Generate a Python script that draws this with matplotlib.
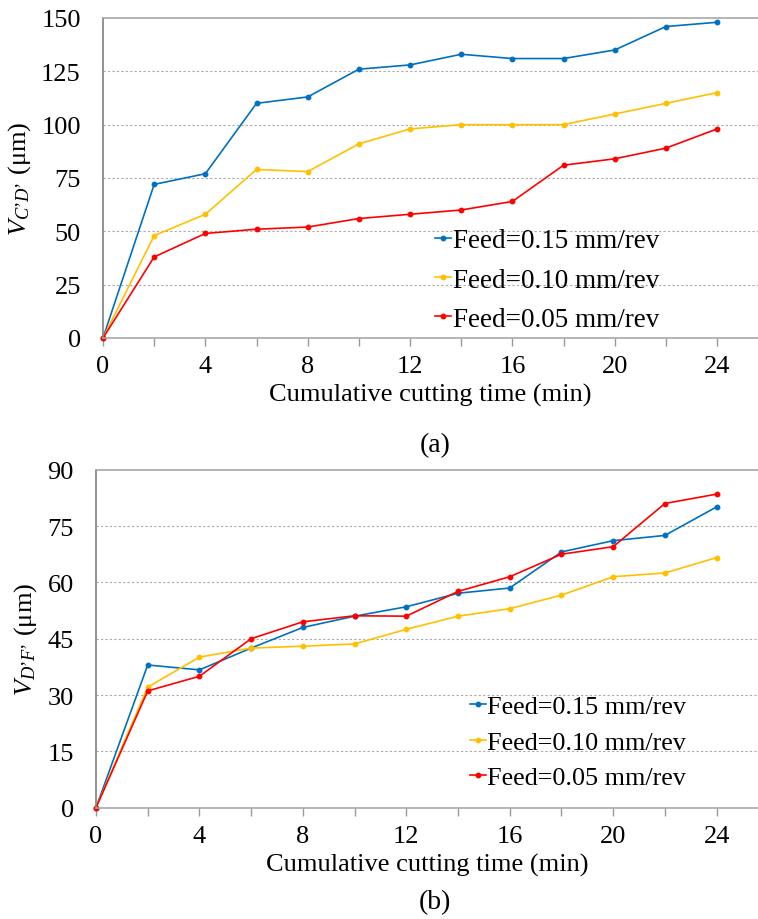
import matplotlib
matplotlib.use("Agg")
import matplotlib.pyplot as plt
from matplotlib.ticker import MultipleLocator

plt.rcParams['font.family'] = ['Liberation Serif', 'DejaVu Serif']
plt.rcParams['mathtext.fontset'] = 'custom'
plt.rcParams['mathtext.rm'] = 'Liberation Serif'
plt.rcParams['mathtext.it'] = 'Liberation Serif:italic'

time = [0, 2, 4, 6, 8, 10, 12, 14, 16, 18, 20, 22, 24]
labels = ["Feed=0.15 mm/rev", "Feed=0.10 mm/rev", "Feed=0.05 mm/rev"]
colors = ["#0070C0", "#FFC000", "#FF0000"]

a_f015 = [0, 72, 77, 110, 113, 126, 128, 133, 131, 131, 135, 146, 148]
a_f010 = [0, 48, 58, 79, 78, 91, 98, 100, 100, 100, 105, 110, 115]
a_f005 = [0, 38, 49, 51, 52, 56, 58, 60, 64, 81, 84, 89, 98]

b_f015 = [0, 38.0, 36.7, 42.5, 48.0, 51.0, 53.5, 57.1, 58.5, 68.1, 71.1, 72.5, 80.1]
b_f010 = [0, 32.1, 40.1, 42.5, 43.0, 43.6, 47.5, 51.0, 53.0, 56.6, 61.5, 62.5, 66.6]
b_f005 = [0, 31.1, 35.0, 45.0, 49.5, 51.1, 51.0, 57.6, 61.5, 67.5, 69.5, 81.0, 83.5]

fig = plt.figure(figsize=(7.58, 9.2), dpi=100)

FS = 19

def style(ax, ymax, ystep, ylabel, leg_xy, leg_fs, leg_sp):
    ax.set_xlim(0, 25.6)
    ax.set_ylim(0, ymax)
    ax.xaxis.set_major_locator(MultipleLocator(4))
    ax.xaxis.set_minor_locator(MultipleLocator(2))
    ax.yaxis.set_major_locator(MultipleLocator(ystep))
    ax.tick_params(axis='x', which='both', direction='out', length=5.5, width=1,
                   color='#999999', labelsize=FS, pad=7)
    ax.tick_params(axis='y', which='both', length=0, labelsize=FS, pad=16)
    for s in ['left', 'bottom', 'top']:
        ax.spines[s].set_color('#A8A8A8')
        ax.spines[s].set_linewidth(1.2)
    ax.spines['left'].set_color('#808080')
    ax.spines['right'].set_visible(False)
    for v in range(ystep, ymax, ystep):
        ax.axhline(v, color='#AAAAAA', lw=0.8, ls=(0, (2, 2)), zorder=0)
    ax.set_ylabel(ylabel, fontsize=FS, labelpad=6)
    ax.set_xlabel("Cumulative cutting time (min)", fontsize=FS, labelpad=4)
    ax.legend(loc='center left', bbox_to_anchor=leg_xy, frameon=False,
              fontsize=leg_fs, handlelength=0.6, handletextpad=0.05,
              labelspacing=leg_sp, borderaxespad=0, borderpad=0)

ax1 = fig.add_axes([103 / 758, 1 - 339 / 920, 655 / 758, 320 / 920])
for ys, c, l in zip([a_f015, a_f010, a_f005], colors, labels):
    ax1.plot(time, ys, color=c, lw=1.2, marker='o', ms=3.2, label=l, clip_on=False)
style(ax1, 150, 25, r"$V_{C’D’}$ (μm)", (0.507, 0.181), 19.5, 0.52)

ax2 = fig.add_axes([96 / 758, 1 - 808.7 / 920, 662 / 758, 338 / 920])
for ys, c, l in zip([b_f015, b_f010, b_f005], colors, labels):
    ax2.plot(time, ys, color=c, lw=1.2, marker='o', ms=3.2, label=l, clip_on=False)
style(ax2, 90, 15, r"$V_{D’F’}$ (μm)", (0.565, 0.194), 18.8, 0.46)

fig.text(435 / 758, 1 - 446 / 920, "(a)", fontsize=FS + 1, ha='center', va='center')
fig.text(435 / 758, 1 - 903 / 920, "(b)", fontsize=FS + 1, ha='center', va='center')

fig.savefig("out.png", dpi=100)
